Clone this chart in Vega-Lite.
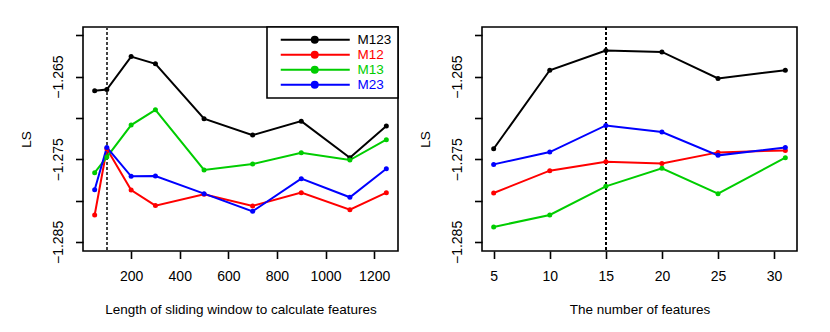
{
  "$schema": "https://vega.github.io/schema/vega-lite/v6.json",
  "padding": {"left": 18, "top": 25, "right": 5, "bottom": 5},
  "background": "white",
  "datasets": {
    "window": [
      {"x": 50, "LS": -1.26672, "model": "M123"},
      {"x": 100, "LS": -1.26656, "model": "M123"},
      {"x": 200, "LS": -1.26258, "model": "M123"},
      {"x": 300, "LS": -1.26346, "model": "M123"},
      {"x": 500, "LS": -1.27010, "model": "M123"},
      {"x": 700, "LS": -1.27208, "model": "M123"},
      {"x": 900, "LS": -1.27039, "model": "M123"},
      {"x": 1100, "LS": -1.27481, "model": "M123"},
      {"x": 1250, "LS": -1.27099, "model": "M123"},
      {"x": 50, "LS": -1.28174, "model": "M12"},
      {"x": 100, "LS": -1.27373, "model": "M12"},
      {"x": 200, "LS": -1.27872, "model": "M12"},
      {"x": 300, "LS": -1.28061, "model": "M12"},
      {"x": 500, "LS": -1.27924, "model": "M12"},
      {"x": 700, "LS": -1.28065, "model": "M12"},
      {"x": 900, "LS": -1.27904, "model": "M12"},
      {"x": 1100, "LS": -1.28110, "model": "M12"},
      {"x": 1250, "LS": -1.27904, "model": "M12"},
      {"x": 50, "LS": -1.27663, "model": "M13"},
      {"x": 100, "LS": -1.27473, "model": "M13"},
      {"x": 200, "LS": -1.27087, "model": "M13"},
      {"x": 300, "LS": -1.26902, "model": "M13"},
      {"x": 500, "LS": -1.27630, "model": "M13"},
      {"x": 700, "LS": -1.27558, "model": "M13"},
      {"x": 900, "LS": -1.27421, "model": "M13"},
      {"x": 1100, "LS": -1.27510, "model": "M13"},
      {"x": 1250, "LS": -1.27264, "model": "M13"},
      {"x": 50, "LS": -1.27868, "model": "M23"},
      {"x": 100, "LS": -1.27357, "model": "M23"},
      {"x": 200, "LS": -1.27707, "model": "M23"},
      {"x": 300, "LS": -1.27703, "model": "M23"},
      {"x": 500, "LS": -1.27916, "model": "M23"},
      {"x": 700, "LS": -1.28130, "model": "M23"},
      {"x": 900, "LS": -1.27735, "model": "M23"},
      {"x": 1100, "LS": -1.27960, "model": "M23"},
      {"x": 1250, "LS": -1.27614, "model": "M23"}
    ],
    "features": [
      {"x": 5, "LS": -1.27373, "model": "M123"},
      {"x": 10, "LS": -1.26423, "model": "M123"},
      {"x": 15, "LS": -1.26185, "model": "M123"},
      {"x": 20, "LS": -1.26201, "model": "M123"},
      {"x": 25, "LS": -1.26523, "model": "M123"},
      {"x": 31, "LS": -1.26423, "model": "M123"},
      {"x": 5, "LS": -1.27908, "model": "M12"},
      {"x": 10, "LS": -1.27638, "model": "M12"},
      {"x": 15, "LS": -1.27530, "model": "M12"},
      {"x": 20, "LS": -1.27550, "model": "M12"},
      {"x": 25, "LS": -1.27417, "model": "M12"},
      {"x": 31, "LS": -1.27393, "model": "M12"},
      {"x": 5, "LS": -1.28319, "model": "M13"},
      {"x": 10, "LS": -1.28174, "model": "M13"},
      {"x": 15, "LS": -1.27828, "model": "M13"},
      {"x": 20, "LS": -1.27610, "model": "M13"},
      {"x": 25, "LS": -1.27916, "model": "M13"},
      {"x": 31, "LS": -1.27481, "model": "M13"},
      {"x": 5, "LS": -1.27562, "model": "M23"},
      {"x": 10, "LS": -1.27413, "model": "M23"},
      {"x": 15, "LS": -1.27091, "model": "M23"},
      {"x": 20, "LS": -1.27171, "model": "M23"},
      {"x": 25, "LS": -1.27453, "model": "M23"},
      {"x": 31, "LS": -1.27357, "model": "M23"}
    ]
  },
  "hconcat": [
    {
      "width": 315,
      "height": 224,
      "data": {"name": "window"},
      "layer": [
        {
          "mark": {"type": "rule", "strokeDash": [3, 2], "color": "#444444", "strokeWidth": 1},
          "encoding": {
            "x": {"datum": 100, "type": "quantitative", "scale": {"domain": [2, 1298], "nice": false, "zero": false}}
          }
        },
        {
          "mark": {"type": "line", "strokeWidth": 2},
          "encoding": {
            "x": {"field": "x", "type": "quantitative", "scale": {"domain": [2, 1298], "nice": false, "zero": false},
              "axis": {"values": [200, 400, 600, 800, 1000, 1200], "format": "d", "title": "Length of sliding window to calculate features"}},
            "y": {"field": "LS", "type": "quantitative", "scale": {"domain": [-1.2861, -1.259], "nice": false, "zero": false}, "title": "LS"},
            "color": {"field": "model", "type": "nominal",
              "scale": {"domain": ["M123", "M12", "M13", "M23"], "range": ["#000000", "#FF0000", "#00CD00", "#0000FF"]},
              "legend": {
                "title": null,
                "orient": "top-right",
                "offset": 0,
                "symbolType": "M0.2,0H14M7.6,0A0.6,0.6,0,1,1,6.4,0A0.6,0.6,0,1,1,7.6,0Z",
                "symbolSize": 100,
                "symbolStrokeWidth": 2,
                "labelOffset": 71,
                "labelFontSize": 13.5,
                "labelFont": "Liberation Sans",
                "rowPadding": 0,
                "padding": 6,
                "strokeColor": "black",
                "fillColor": "white",
                "encode": {
                  "legend": {"update": {"strokeWidth": {"value": 1.6}}},
                  "labels": {"update": {"fill": {"scale": "color", "field": "value"}}},
                  "symbols": {"update": {"fill": {"scale": "color", "field": "value"}, "stroke": {"scale": "color", "field": "value"}, "opacity": {"value": 1}}}
                }
              }}
          }
        },
        {
          "mark": {"type": "point", "filled": true, "size": 25, "opacity": 1},
          "encoding": {
            "x": {"field": "x", "type": "quantitative"},
            "y": {"field": "LS", "type": "quantitative"},
            "color": {"field": "model", "type": "nominal"}
          }
        }
      ]
    },
    {
      "width": 315,
      "height": 224,
      "data": {"name": "features"},
      "layer": [
        {
          "mark": {"type": "rule", "strokeDash": [3, 2], "color": "#000000", "strokeWidth": 1},
          "encoding": {
            "x": {"datum": 15, "type": "quantitative", "scale": {"domain": [3.96, 32.04], "nice": false, "zero": false}}
          }
        },
        {
          "mark": {"type": "line", "strokeWidth": 2},
          "encoding": {
            "x": {"field": "x", "type": "quantitative", "scale": {"domain": [3.96, 32.04], "nice": false, "zero": false},
              "axis": {"values": [5, 10, 15, 20, 25, 30], "format": "d", "title": "The number of features"}},
            "y": {"field": "LS", "type": "quantitative", "scale": {"domain": [-1.2861, -1.259], "nice": false, "zero": false}, "title": "LS"},
            "color": {"field": "model", "type": "nominal", "legend": null}
          }
        },
        {
          "mark": {"type": "point", "filled": true, "size": 25, "opacity": 1},
          "encoding": {
            "x": {"field": "x", "type": "quantitative"},
            "y": {"field": "LS", "type": "quantitative"},
            "color": {"field": "model", "type": "nominal", "legend": null}
          }
        }
      ]
    }
  ],
  "spacing": 84,
  "bounds": "flush",
  "resolve": {"legend": {"color": "independent"}},
  "config": {
    "view": {"stroke": "black", "strokeWidth": 1.6},
    "font": "Liberation Sans",
    "axis": {
      "grid": false,
      "domain": false,
      "ticks": true,
      "tickColor": "black",
      "tickWidth": 1.6,
      "tickSize": 7.5,
      "labelColor": "black",
      "labelFont": "Liberation Sans",
      "labelFontSize": 14,
      "titleColor": "black",
      "titleFont": "Liberation Sans",
      "titleFontSize": 13.5,
      "titleFontWeight": "normal"
    },
    "axisX": {
      "labelPadding": 11.3,
      "labelBaseline": "top",
      "labelFlush": false,
      "labelOverlap": false,
      "titleBaseline": "alphabetic",
      "titleY": 62.8
    },
    "axisY": {
      "values": [-1.285, -1.28, -1.275, -1.27, -1.265, -1.26],
      "labelAngle": -90,
      "labelAlign": "center",
      "labelBaseline": "alphabetic",
      "labelPadding": 13.3,
      "labelOverlap": false,
      "labelFlush": false,
      "labelExpr": "abs(round(datum.value * 1000)) % 10 == 5 ? replace(format(datum.value, '.3f'), '-', '\u2212') : ''",
      "titleAngle": -90,
      "titleBaseline": "alphabetic",
      "titleAlign": "center",
      "titleX": -52.3,
      "titleY": 112
    }
  }
}
